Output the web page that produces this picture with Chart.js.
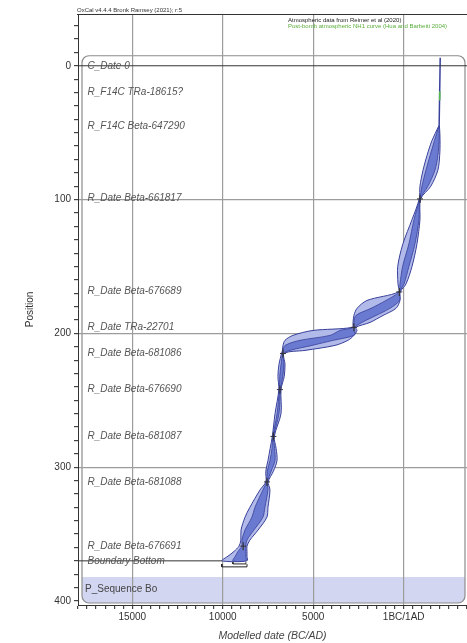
<!DOCTYPE html>
<html>
<head>
<meta charset="utf-8">
<script src="https://cdn.jsdelivr.net/npm/chart.js@4/dist/chart.umd.min.js"></script>
<style>
  html, body { margin: 0; padding: 0; background: #fff; }
  canvas { display: block; }
</style>
</head>
<body>
<canvas id="chart" width="467" height="643"></canvas>
<script>
// Depth model envelope: depth (position) with 95% and 68% ranges (cal BC negative / AD positive)
const depths = [45, 56, 67, 78, 90, 99.5, 115, 133, 150, 163, 169, 175.4, 181.3, 186.6, 191.8, 195.5,
  197.8, 201.5, 205.2, 209, 212.7, 215, 223, 232, 242, 260, 277, 286, 295, 303, 311, 317, 330,
  337.4, 347, 354.5, 359, 363, 366.5, 370];
const lo95 = [1940, 1560, 1290, 1070, 900, 860, 460, -40, -330, -315, -290, -2030, -2580, -2750, -2800, -2850,
  -5010, -6120, -6560, -6670, -6700, -6750, -6890, -6950, -6900, -7110, -7260, -7380, -7500, -7620, -7620, -7940, -8500,
  -8770, -8990, -9000, -9100, -9380, -9710, -10050];
const hi95 = [1975, 2010, 1990, 1890, 1500, 940, 900, 735, 460, 130, -190, -205, -425, -1145, -1860, -2650,
  -2580, -2750, -3080, -3800, -5450, -6600, -6560, -6600, -6780, -6780, -7150, -7050, -7000, -7200, -7490, -7390, -7500,
  -7560, -8050, -8500, -8660, -8660, -8660, -8660];
const lo68 = [1948, 1700, 1460, 1230, 1010, 885, 570, 290, -60, -205, -260, -980, -1810, -2640, -2750, -2780,
  -3520, -4070, -5730, -6560, -6670, -6700, -6780, -6850, -6870, -7000, -7230, -7280, -7390, -7540, -7580, -7780, -8220,
  -8390, -8770, -8940, -8950, -9160, -9300, -9440];
const hi68 = [1965, 1960, 1890, 1730, 1340, 915, 845, 625, 290, 20, -225, -230, -760, -1530, -2300, -2710,
  -2690, -2750, -3900, -5070, -6280, -6640, -6620, -6680, -6810, -6890, -7180, -7130, -7110, -7320, -7530, -7500, -7670,
  -7780, -8280, -8660, -8720, -8720, -8720, -8720];

// Post-bomb section at the top of the sequence
const topDepths = [-6, 45];
const topDates = [2020, 1960];
const bombDepths = [19, 26];
const bombDates = [1998, 1992];

// Dated samples: node depths and central dates
const nodeDepths = [99.5, 169, 195.5, 215, 242, 277, 311, 359];
const nodeDates = [900, -240, -2750, -6670, -6840, -7200, -7555, -8870];

// Row labels of the sequence
const labelNames = ['C_Date 0', 'R_F14C TRa-18615?', 'R_F14C Beta-647290', 'R_Date Beta-661817',
  'R_Date Beta-676689', 'R_Date TRa-22701', 'R_Date Beta-681086', 'R_Date Beta-676690',
  'R_Date Beta-681087', 'R_Date Beta-681088', 'R_Date Beta-676691', 'Boundary Bottom'];
const labelDepths = [0, 19.5, 45, 99, 168.7, 195.6, 215, 242, 276.7, 311.2, 358.8, 370.2];
const sequenceName = 'P_Sequence Bo';
const sequenceDepth = 391;

// Axis ticks
const xTickValues = [-15000, -10000, -5000, 0];
const xTickText = ['15000', '10000', '5000', '1BC/1AD'];
const yTickValues = [0, 100, 200, 300, 400];

const FONT = '"Liberation Sans", Arial, sans-serif';
Chart.defaults.font.family = FONT;

const EDGE = '#37409a';

function envelope(lo, hi) {
  const pts = depths.map((d, i) => ({ x: lo[i], y: d }));
  for (let i = depths.length - 1; i >= 0; i--) pts.push({ x: hi[i], y: depths[i] });
  pts.push({ x: lo[0], y: depths[0] });
  return pts;
}
const pairs = (xs, ys) => xs.map((v, i) => ({ x: v, y: ys[i] }));

const last = depths.length - 1;
const boundaryDepth = depths[last];

const lineDs = (data, color, width, order) => ({
  data, showLine: true, borderColor: color, borderWidth: width,
  pointRadius: 0, fill: false, order
});

const datasets = [
  { data: envelope(lo95, hi95), showLine: true, fill: 'shape', backgroundColor: '#b2baea',
    borderColor: EDGE, borderWidth: 1, pointRadius: 0, tension: 0.3, order: 9 },
  { data: envelope(lo68, hi68), showLine: true, fill: 'shape', backgroundColor: '#6a7ad0',
    borderColor: EDGE, borderWidth: 0.8, pointRadius: 0, tension: 0.3, order: 8 },
  lineDs(pairs(topDates, topDepths), EDGE, 1.5, 7),
  lineDs(pairs(bombDates, bombDepths), '#57b84a', 1.5, 6),
  // C_Date 0 row line
  lineDs([{ x: -18000, y: 0 }, { x: 3500, y: 0 }], '#333', 1, 5),
  // Boundary row line up to the start of its distribution
  lineDs([{ x: -18000, y: boundaryDepth }, { x: lo95[last], y: boundaryDepth }], '#333', 1, 5),
  // Boundary range brackets (95% and 68%)
  lineDs([{ x: lo95[last], y: boundaryDepth + 2.4 }, { x: lo95[last], y: boundaryDepth + 4.5 },
          { x: hi95[last], y: boundaryDepth + 4.5 }, { x: hi95[last], y: boundaryDepth + 2.4 }], '#222', 1, 4),
  lineDs([{ x: lo68[last], y: boundaryDepth + 1 }, { x: lo68[last], y: boundaryDepth + 2.3 },
          { x: hi68[last], y: boundaryDepth + 2.3 }, { x: hi68[last], y: boundaryDepth + 1 }], '#222', 1, 4),
  // Sample markers
  { data: pairs(nodeDates, nodeDepths), showLine: false, pointStyle: 'line', rotation: 90,
    pointRadius: 4, borderColor: '#333', borderWidth: 1.2, order: 2 },
  { data: pairs(nodeDates, nodeDepths), showLine: false, pointStyle: 'line',
    pointRadius: 3, borderColor: '#333', borderWidth: 1, order: 1 }
];

const decorations = {
  id: 'decorations',
  beforeDraw(chart) {
    const { ctx, chartArea: a, scales: { y } } = chart;
    const xL = a.left + 4, xR = a.right - 2;
    const yTop = y.getPixelForValue(-7.5);
    const yBand = y.getPixelForValue(382);
    const yBot = y.getPixelForValue(401.5);
    const r = 7;
    ctx.save();
    // sequence band
    ctx.fillStyle = '#d3d6f1';
    ctx.beginPath();
    ctx.moveTo(xL, yBand);
    ctx.lineTo(xR, yBand);
    ctx.lineTo(xR, yBot - r);
    ctx.arcTo(xR, yBot, xR - r, yBot, r);
    ctx.lineTo(xL + r, yBot);
    ctx.arcTo(xL, yBot, xL, yBot - r, r);
    ctx.closePath();
    ctx.fill();
    // sequence box
    ctx.strokeStyle = '#8c8c8c';
    ctx.lineWidth = 1.2;
    ctx.beginPath();
    ctx.roundRect(xL, yTop, xR - xL, yBot - yTop, r);
    ctx.stroke();
    ctx.restore();
  },
  afterDraw(chart) {
    const { ctx, chartArea: a, scales: { y } } = chart;
    ctx.save();
    // frame line along the top
    ctx.strokeStyle = '#333';
    ctx.lineWidth = 1;
    ctx.beginPath();
    ctx.moveTo(a.left - 1, a.top + 0.5);
    ctx.lineTo(a.right, a.top + 0.5);
    ctx.stroke();
    // header
    ctx.textBaseline = 'alphabetic';
    ctx.font = '6px ' + FONT;
    ctx.fillStyle = '#333';
    ctx.fillText('OxCal v4.4.4 Bronk Ramsey (2021); r:5', 77, 12);
    ctx.fillStyle = '#222';
    ctx.fillText('Atmospheric data from Reimer et al (2020)', 288, 22);
    ctx.fillStyle = '#5aae3c';
    ctx.fillText('Post-bomb atmospheric NH1 curve (Hua and Barbetti 2004)', 288, 28);
    // row labels
    ctx.textBaseline = 'middle';
    ctx.font = 'italic 10px ' + FONT;
    ctx.fillStyle = '#555';
    labelNames.forEach((t, i) => ctx.fillText(t, a.left + 9.5, y.getPixelForValue(labelDepths[i])));
    ctx.font = '10px ' + FONT;
    ctx.fillStyle = '#444';
    ctx.fillText(sequenceName, a.left + 7, y.getPixelForValue(sequenceDepth));
    ctx.restore();
  }
};

new Chart(document.getElementById('chart'), {
  type: 'scatter',
  data: { datasets },
  plugins: [decorations],
  options: {
    responsive: false,
    animation: false,
    devicePixelRatio: 1,
    events: [],
    layout: { autoPadding: false, padding: { top: 14, right: 0, bottom: 0, left: 0 } },
    plugins: { legend: { display: false }, tooltip: { enabled: false } },
    scales: {
      x: {
        type: 'linear',
        min: -18000,
        max: 3500,
        afterFit(s) { s.height = 38; s.paddingLeft = 0; s.paddingRight = 0; },
        ticks: {
          stepSize: 500,
          autoSkip: false,
          maxRotation: 0,
          includeBounds: false,
          padding: 2,
          color: '#333',
          font: { size: 10 },
          callback(v) {
            const k = xTickValues.indexOf(v);
            return k >= 0 ? xTickText[k] : '';
          }
        },
        grid: {
          color: c => (c.tick && xTickValues.includes(c.tick.value)) ? '#9c9c9c' : 'rgba(0,0,0,0)',
          lineWidth: 1.2,
          tickColor: '#444',
          tickLength: 4
        },
        border: { color: '#333', width: 1 },
        title: {
          display: true,
          text: 'Modelled date (BC/AD)',
          color: '#444',
          font: { size: 10.5, style: 'italic' },
          padding: { top: 0, bottom: 1 }
        }
      },
      y: {
        type: 'linear',
        reverse: true,
        min: -38.7,
        max: 403,
        afterFit(s) { s.width = 78; s.paddingTop = 0; s.paddingBottom = 0; },
        ticks: {
          stepSize: 10,
          autoSkip: false,
          includeBounds: false,
          padding: 3,
          color: '#333',
          font: { size: 10 },
          callback(v) { return yTickValues.includes(v) ? String(v) : ''; }
        },
        grid: {
          color: c => (c.tick && [100, 200, 300].includes(c.tick.value)) ? '#9c9c9c' : 'rgba(0,0,0,0)',
          lineWidth: 1.2,
          tickColor: '#444',
          tickLength: 4
        },
        border: { color: '#333', width: 1 },
        title: {
          display: true,
          text: 'Position',
          color: '#333',
          font: { size: 10 },
          padding: { top: 24, bottom: 0 }
        }
      }
    }
  }
});
</script>
</body>
</html>
